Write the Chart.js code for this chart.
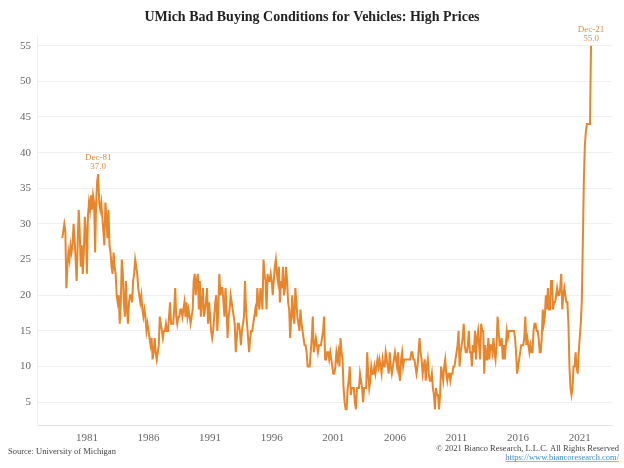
<!DOCTYPE html>
<html>
<head>
  <title>UMich Bad Buying Conditions for Vehicles: High Prices</title>
  <script src="https://cdn.jsdelivr.net/npm/chart.js"></script>
  <style>
    html, body { margin: 0; padding: 0; background: #fff; }
  </style>
</head>
<body>
  <canvas id="myChart" width="624" height="468"></canvas>
  <script>
    // Monthly series, Jan 1979 .. Dec 2021 (% citing high prices)
    const startYear = 1979;
    const monthNames = ['Jan', 'Feb', 'Mar', 'Apr', 'May', 'Jun', 'Jul', 'Aug', 'Sep', 'Oct', 'Nov', 'Dec'];
    const highPrices = [
      28, 29, 30, 29, 21, 24, 26, 25, 27, 26, 27, 30, // 1979
      28, 25, 22, 27, 32, 29, 24, 27, 23, 26, 31, 29, // 1980
      23, 31, 33, 32, 34, 32, 34, 33, 26, 33, 36, 37, // 1981
      33, 32, 33, 31, 29, 27, 33, 31, 28, 32, 27, 26, // 1982
      24, 23, 26, 24, 23, 20, 19, 20, 16, 19, 25, 23, // 1983
      19, 17, 22, 18, 16, 19, 20, 20, 19, 22, 23, 25, // 1984
      24, 23, 21, 20, 19, 20, 18, 17, 18, 17, 15, 16, // 1985
      15, 14, 13, 14, 11, 12, 14, 12, 11, 12, 13, 17, // 1986
      16, 15, 14, 15, 15, 16, 15, 15, 17, 19, 16, 16, // 1987
      16, 18, 21, 17, 16, 17, 17, 18, 18, 17, 18, 19, // 1988
      17, 19, 17, 18, 17, 16, 17, 18, 22, 23, 20, 22, // 1989
      23, 18, 22, 17, 19, 21, 17, 18, 19, 21, 16, 19, // 1990
      17, 15, 14, 15, 17, 19, 20, 15, 18, 23, 20, 21, // 1991
      21, 19, 17, 21, 18, 14, 17, 18, 20, 19, 18, 17, // 1992
      16, 12, 14, 16, 16, 15, 13, 15, 16, 17, 22, 18, // 1993
      16, 14, 12, 14, 15, 15, 16, 17, 18, 17, 21, 19, // 1994
      18, 21, 20, 18, 25, 23, 22, 18, 23, 22, 22, 23, // 1995
      22, 20, 22, 24, 25, 23, 22, 24, 19, 22, 21, 24, // 1996
      20, 21, 24, 22, 19, 18, 14, 17, 20, 17, 16, 21, // 1997
      19, 17, 16, 15, 18, 16, 15, 14, 13, 13, 12, 10, // 1998
      10, 10, 12, 14, 17, 12, 13, 14, 13, 12, 13, 13, // 1999
      13, 14, 15, 17, 11, 11, 12, 12, 11, 12, 11, 10, // 2000
      9, 9, 10, 12, 11, 12, 10, 14, 12, 11, 7, 5,     // 2001
      4, 4, 7, 8, 10, 6, 7, 7, 7, 5, 4, 7,            // 2002
      7, 7, 9, 8, 7, 5, 7, 7, 7, 12, 9, 7,            // 2003
      8, 10, 9, 9, 10, 9, 10, 11, 10, 11, 10, 9,      // 2004
      11, 10, 10, 12, 11, 10, 9, 12, 10, 9, 10, 11,   // 2005
      12, 11, 10, 12, 9, 8, 11, 12, 10, 11, 11, 11,   // 2006
      11, 11, 11, 11, 12, 12, 11, 11, 10, 9, 10, 12,  // 2007
      14, 12, 11, 9, 10, 11, 8, 10, 11, 9, 8, 8,      // 2008
      9, 7, 6, 4, 7, 6, 6, 4, 6, 10, 9, 8,            // 2009
      10, 11, 9, 8, 9, 9, 8, 9, 9, 10, 10, 11,        // 2010
      12, 13, 15, 10, 12, 13, 14, 16, 13, 12, 12, 13, // 2011
      15, 12, 12, 10, 13, 12, 15, 11, 14, 15, 13, 11, // 2012
      16, 15, 15, 9, 13, 11, 11, 14, 11, 13, 13, 12,  // 2013
      14, 12, 11, 13, 17, 15, 13, 13, 14, 11, 13, 11, // 2014
      13, 15, 14, 15, 15, 15, 15, 15, 15, 14, 12, 9,  // 2015
      10, 11, 12, 13, 13, 13, 14, 17, 13, 14, 13, 12, // 2016
      13, 12, 12, 15, 16, 16, 15, 15, 14, 12, 12, 14, // 2017
      18, 16, 17, 20, 18, 21, 18, 18, 22, 22, 18, 19, // 2018
      19, 20, 21, 20, 20, 21, 23, 18, 20, 21, 20, 19, // 2019
      19, 16, 10, 7, 6, 7, 10, 10, 12, 10, 9, 12,     // 2020
      14, 16, 19, 27, 36, 41, 43, 44, 44, 44, 44, 55  // 2021
    ];
    const yTicks = [5, 10, 15, 20, 25, 30, 35, 40, 45, 50, 55];
    const xTickYears = [1981, 1986, 1991, 1996, 2001, 2006, 2011, 2016, 2021];
    const calloutMonths = ['Dec-81', 'Dec-21'];

    const monthLabels = highPrices.map((_, i) =>
      monthNames[i % 12] + '-' + String(startYear + Math.floor(i / 12)).slice(2));
    const points = highPrices.map((v, i) => ({ x: startYear + i / 12, y: v }));

    const lineColor = '#e8862c';
    const serif = '"Liberation Serif", "DejaVu Serif", serif';

    // title, footnotes and the two point callouts
    const decorations = {
      id: 'decorations',
      afterDraw(chart) {
        const ctx = chart.ctx;
        ctx.save();
        ctx.fillStyle = '#222';
        ctx.font = 'bold 14px ' + serif;
        ctx.textAlign = 'center';
        ctx.textBaseline = 'middle';
        ctx.fillText('UMich Bad Buying Conditions for Vehicles: High Prices', 312, 17);

        const meta = chart.getDatasetMeta(0);
        ctx.fillStyle = '#d98f45';
        ctx.font = '9px ' + serif;
        ctx.textBaseline = 'alphabetic';
        calloutMonths.forEach(name => {
          const idx = monthLabels.indexOf(name);
          const pt = meta.data[idx];
          ctx.fillText(name, pt.x, pt.y - 14);
          ctx.fillText(highPrices[idx].toFixed(1), pt.x, pt.y - 5);
        });

        ctx.fillStyle = '#444';
        ctx.font = '8.5px ' + serif;
        ctx.textAlign = 'left';
        ctx.fillText('Source: University of Michigan', 8, 454);
        ctx.textAlign = 'right';
        ctx.fillText('\u00a9 2021 Bianco Research, L.L.C. All Rights Reserved', 619, 451);
        ctx.fillStyle = '#3d8fc4';
        const url = 'https://www.biancoresearch.com/';
        ctx.fillText(url, 619, 460);
        const w = ctx.measureText(url).width;
        ctx.fillRect(619 - w, 461, w, 0.6);
        ctx.restore();
      }
    };

    const ctx = document.getElementById('myChart').getContext('2d');
    const myChart = new Chart(ctx, {
      type: 'line',
      data: {
        datasets: [{
          label: 'High Prices',
          data: points,
          borderColor: lineColor,
          backgroundColor: lineColor,
          borderWidth: 2,
          pointRadius: 0,
          tension: 0,
          fill: false
        }]
      },
      options: {
        responsive: false,
        animation: false,
        devicePixelRatio: 1,
        layout: { padding: { top: 35, right: 12, bottom: 25, left: 0 } },
        plugins: {
          legend: { display: false },
          tooltip: { enabled: false }
        },
        scales: {
          x: {
            type: 'linear',
            min: 1976.95,
            max: 2023.62,
            afterBuildTicks: s => { s.ticks = xTickYears.map(v => ({ value: v })); },
            afterFit: s => { s.height = 18; },
            grid: { drawOnChartArea: false, drawTicks: false },
            border: { display: true, color: '#e4e4e4' },
            ticks: {
              callback: v => String(v),
              autoSkip: false,
              maxRotation: 0,
              padding: 7,
              color: '#666',
              font: { family: serif, size: 11 }
            }
          },
          y: {
            min: 1.8,
            max: 56.5,
            afterBuildTicks: s => { s.ticks = yTicks.map(v => ({ value: v })); },
            afterFit: s => { s.width = 37; },
            grid: { color: '#f0f0f0', lineWidth: 1, drawTicks: false },
            border: { display: true, color: '#f0f0f0' },
            ticks: {
              padding: 6,
              color: '#666',
              font: { family: serif, size: 11 }
            }
          }
        }
      },
      plugins: [decorations]
    });
  </script>
</body>
</html>
